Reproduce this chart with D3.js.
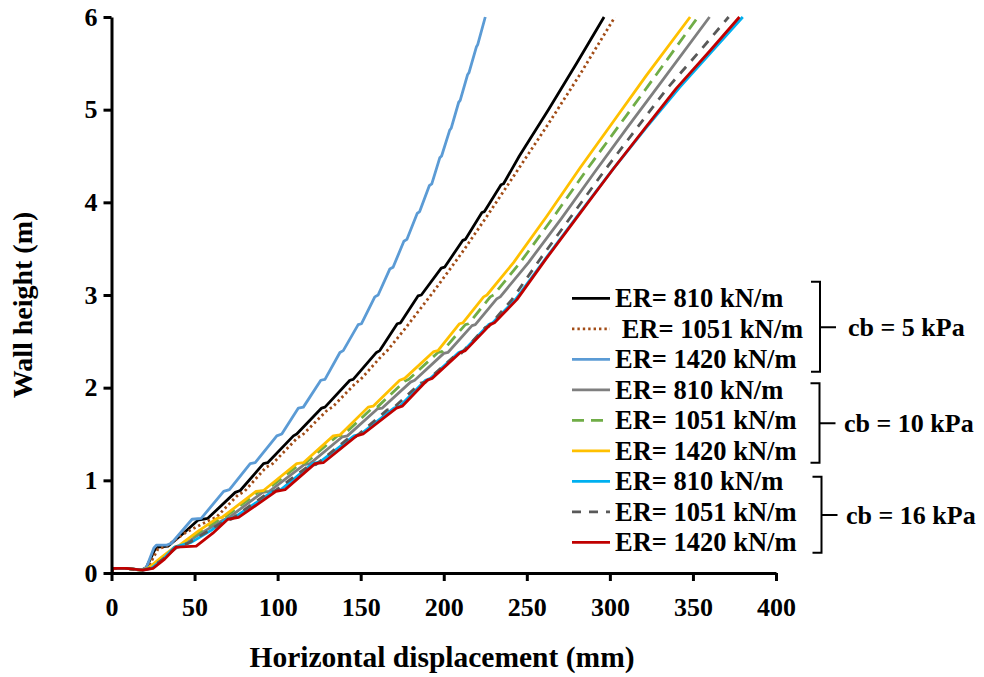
<!DOCTYPE html>
<html>
<head>
<meta charset="utf-8">
<script src="https://cdn.jsdelivr.net/npm/d3@7"></script>
<style>
  body { margin: 0; background: #fff; }
  text { font-family: "Liberation Serif", "Times New Roman", serif; font-weight: bold; fill: #000; }
</style>
</head>
<body>
<div id="chart"></div>
<script>
// tick labels
const xTicks = [0, 50, 100, 150, 200, 250, 300, 350, 400];
const yTicks = [0, 1, 2, 3, 4, 5, 6];

// groups and legend entries
const groupLabels = ["cb = 5 kPa", "cb = 10 kPa", "cb = 16 kPa"];
const legendLabels = [
  "ER= 810 kN/m", " ER= 1051 kN/m", "ER= 1420 kN/m",
  "ER= 810 kN/m", "ER= 1051 kN/m", "ER= 1420 kN/m",
  "ER= 810 kN/m", "ER= 1051 kN/m", "ER= 1420 kN/m"
];

// [displacement mm, height m]
const cb5_ER810 = [[0,0],[1,0.05],[9,0.05],[18,0.03],[21,0.06],[26,0.25],[28,0.28],[34,0.29],[44,0.44],[52,0.57],[58,0.59],[74.5,0.87],[77.5,0.89],[91.5,1.18],[94,1.19],[109.5,1.48],[111.5,1.5],[126.5,1.78],[128.5,1.79],[143.5,2.08],[145.5,2.09],[159.5,2.38],[161.5,2.4],[172,2.69],[174,2.7],[184.5,2.99],[186.5,3.0],[198.5,3.29],[200.5,3.3],[211.5,3.59],[213,3.6],[223,3.89],[224.5,3.9],[234.5,4.19],[236,4.2],[245.5,4.5],[263,5.0],[280,5.5],[296.5,6.0]];
const cb5_ER1051 = [[0,0],[1,0.05],[9,0.05],[18,0.03],[22,0.06],[28,0.26],[33,0.29],[45,0.44],[60,0.58],[63,0.6],[76,0.84],[80,0.88],[93,1.14],[97,1.18],[112,1.46],[115,1.49],[130,1.76],[133,1.79],[147,2.05],[150,2.09],[163,2.35],[166,2.4],[176,2.62],[194,3.04],[211.5,3.47],[226,3.85],[242,4.28],[262,4.82],[282,5.38],[303,6.0]];
const cb5_ER1420 = [[0,0],[1,0.05],[9,0.05],[18,0.03],[21,0.06],[25.5,0.27],[27,0.3],[33,0.3],[36,0.32],[48.5,0.58],[54,0.59],[67.5,0.88],[71,0.9],[83.5,1.18],[86.5,1.19],[99.5,1.48],[102.5,1.5],[112.5,1.78],[115.5,1.79],[126,2.08],[128.5,2.09],[137.5,2.38],[139.5,2.4],[148.5,2.68],[150.5,2.69],[158.5,2.98],[160.5,3.0],[167.5,3.28],[169.5,3.3],[176,3.58],[177.8,3.6],[184,3.88],[185.5,3.9],[191.3,4.18],[192.8,4.2],[197.6,4.48],[198.7,4.5],[203.6,4.78],[204.5,4.8],[209,5.08],[209.9,5.1],[214.4,5.38],[215.2,5.4],[219.7,5.68],[220.4,5.7],[225,6.0]];
const cb10_ER810 = [[0,0],[1,0.05],[9,0.05],[18,0.03],[22,0.05],[30,0.14],[39,0.27],[42,0.29],[53,0.42],[67,0.57],[70,0.59],[91,0.87],[95,0.88],[116,1.17],[119.5,1.18],[139,1.47],[142,1.48],[160,1.77],[163,1.78],[180,2.06],[182.5,2.08],[200,2.37],[202.5,2.38],[217,2.67],[219,2.68],[232,2.96],[234,2.98],[251,3.35],[271,3.83],[291,4.33],[311,4.82],[331,5.3],[360,6.0]];
const cb10_ER1051 = [[0,0],[1,0.05],[9,0.05],[18,0.03],[22,0.05],[30,0.15],[39,0.28],[42,0.3],[52,0.43],[65,0.58],[68,0.6],[89,0.88],[93,0.89],[113,1.17],[117,1.19],[136,1.48],[139.5,1.49],[157,1.78],[160,1.79],[176.5,2.07],[179,2.09],[196.5,2.38],[199,2.39],[213,2.68],[215,2.69],[228,2.98],[230,3.0],[246,3.35],[266,3.84],[286,4.35],[306,4.84],[326,5.33],[353,6.0]];
const cb10_ER1420 = [[0,0],[1,0.05],[9,0.05],[18,0.03],[22,0.05],[30,0.17],[38,0.28],[41,0.3],[52,0.45],[63.5,0.59],[66.5,0.6],[87,0.88],[91.5,0.89],[111.5,1.18],[115.5,1.19],[133.5,1.48],[137.5,1.49],[154.5,1.79],[157.5,1.8],[173.5,2.08],[176.5,2.1],[194,2.39],[196.5,2.4],[209.5,2.69],[211.5,2.7],[224,2.98],[226,3.0],[242,3.35],[262,3.85],[282,4.37],[302,4.87],[322,5.37],[348.3,6.0]];
const cb16_ER810 = [[0,0],[1,0.05],[9,0.05],[19,0.03],[24,0.05],[31,0.15],[38,0.28],[48,0.33],[60,0.46],[69,0.58],[74,0.6],[97,0.88],[102,0.9],[121,1.18],[125.5,1.2],[146,1.48],[150,1.5],[170,1.78],[173.5,1.8],[189,2.08],[192,2.1],[209,2.38],[212,2.4],[227,2.68],[229.5,2.7],[243.5,2.96],[262,3.41],[282,3.89],[302,4.36],[322,4.81],[342,5.24],[362,5.64],[380,6.0]];
const cb16_ER1051 = [[0,0],[1,0.05],[9,0.05],[18,0.03],[23,0.05],[31,0.15],[39,0.28],[46,0.32],[57,0.44],[68,0.56],[72,0.58],[94,0.86],[98,0.88],[119,1.16],[123,1.17],[143,1.46],[147,1.47],[166,1.76],[169,1.77],[186,2.05],[189,2.06],[207,2.35],[210,2.36],[225,2.65],[227,2.66],[241,2.95],[258.5,3.4],[278,3.88],[297.5,4.36],[317,4.82],[334.5,5.23],[354,5.63],[371.5,6.0]];
const cb16_ER1420 = [[0,0],[1,0.05],[9,0.05],[19,0.03],[25,0.05],[32,0.15],[39,0.28],[51,0.29],[61,0.43],[70,0.58],[76.5,0.6],[99,0.88],[104.5,0.9],[122.5,1.18],[127.5,1.19],[147.5,1.48],[151.5,1.5],[171.5,1.78],[175,1.8],[190,2.08],[193,2.1],[210,2.38],[213,2.4],[228,2.68],[230.5,2.7],[244,2.95],[262,3.4],[282,3.88],[302,4.36],[322,4.82],[340,5.23],[360,5.63],[378,6.0]];

const seriesValues = [cb5_ER810, cb5_ER1051, cb5_ER1420, cb10_ER810, cb10_ER1051, cb10_ER1420, cb16_ER810, cb16_ER1051, cb16_ER1420];

// line styles, same order as the legend
const seriesColors = ["#000000", "#A24C16", "#5B9BD5", "#7F7F7F", "#70AD47", "#FFC000", "#00B0F0", "#595959", "#C00000"];
const seriesDash = [null, "2.4,3", null, null, "12,7", null, null, "9,8", null];

const width = 984;
const height = 677;

const svg = d3.select("#chart")
  .append("svg")
  .attr("width", width)
  .attr("height", height);

const x = d3.scaleLinear().domain([0, 400]).range([111.5, 776]);
const y = d3.scaleLinear().domain([0, 6]).range([573, 17]);

svg.append("clipPath")
  .attr("id", "plot")
  .append("rect")
  .attr("x", 111.5)
  .attr("y", 15)
  .attr("width", 670)
  .attr("height", 560);

const line = d3.line()
  .x(d => x(d[0]))
  .y(d => y(d[1]));

svg.append("g")
  .attr("clip-path", "url(#plot)")
  .selectAll("path")
  .data(seriesValues)
  .enter()
  .append("path")
  .attr("d", line)
  .attr("fill", "none")
  .attr("stroke", (d, i) => seriesColors[i])
  .attr("stroke-width", 2.8)
  .attr("stroke-dasharray", (d, i) => seriesDash[i])
  .attr("stroke-linejoin", "round");

// axes
const xAxis = svg.append("g")
  .attr("transform", `translate(0,${y(0)})`)
  .call(d3.axisBottom(x).tickValues(xTicks).tickFormat(d3.format("d"))
    .tickSize(8).tickSizeOuter(0).tickPadding(17));

const yAxis = svg.append("g")
  .attr("transform", `translate(${x(0)},0)`)
  .call(d3.axisLeft(y).tickValues(yTicks).tickFormat(d3.format("d"))
    .tickSize(8).tickSizeOuter(0).tickPadding(6));

[xAxis, yAxis].forEach(ax => {
  ax.select(".domain").attr("stroke", "#000").attr("stroke-width", 3);
  ax.selectAll(".tick line").attr("stroke", "#000").attr("stroke-width", 3);
  ax.selectAll(".tick text")
    .style("font-family", '"Liberation Serif", "Times New Roman", serif')
    .style("font-weight", "bold")
    .style("font-size", "26px")
    .attr("fill", "#000");
});

svg.append("text")
  .attr("x", 442)
  .attr("y", 667)
  .attr("text-anchor", "middle")
  .style("font-size", "29.5px")
  .text("Horizontal displacement (mm)");

svg.append("text")
  .attr("transform", "translate(32,305) rotate(-90)")
  .attr("text-anchor", "middle")
  .style("font-size", "28px")
  .text("Wall height (m)");

// legend
const legend = svg.append("g");
const rowY = i => 298.3 + i * 30.5;

const rows = legend.selectAll(".row")
  .data(legendLabels)
  .enter()
  .append("g")
  .attr("class", "row")
  .attr("transform", (d, i) => `translate(0,${rowY(i)})`);

rows.append("line")
  .attr("x1", 572)
  .attr("x2", 610)
  .attr("stroke", (d, i) => seriesColors[i])
  .attr("stroke-width", 2.8)
  .attr("stroke-dasharray", (d, i) => seriesDash[i]);

rows.append("text")
  .attr("x", 615)
  .attr("y", 9)
  .style("font-size", "26.5px")
  .style("white-space", "pre")
  .text(d => d);

// brackets that group the legend rows
const brackets = [
  { top: 281.7, mid: 327.3, bottom: 371.7, bx: 820, tx: 848 },
  { top: 383.3, mid: 423.3, bottom: 462.7, bx: 819.5, tx: 844 },
  { top: 476.7, mid: 515, bottom: 552.7, bx: 821.5, tx: 846 }
];

brackets.forEach((b, i) => {
  legend.append("path")
    .attr("d", `M${b.bx - 9},${b.top} H${b.bx} V${b.bottom} H${b.bx - 9} M${b.bx},${b.mid} H${b.bx + 16}`)
    .attr("fill", "none")
    .attr("stroke", "#000")
    .attr("stroke-width", 2);
  legend.append("text")
    .attr("x", b.tx)
    .attr("y", b.mid + 9)
    .style("font-size", "26px")
    .text(groupLabels[i]);
});
</script>
</body>
</html>
